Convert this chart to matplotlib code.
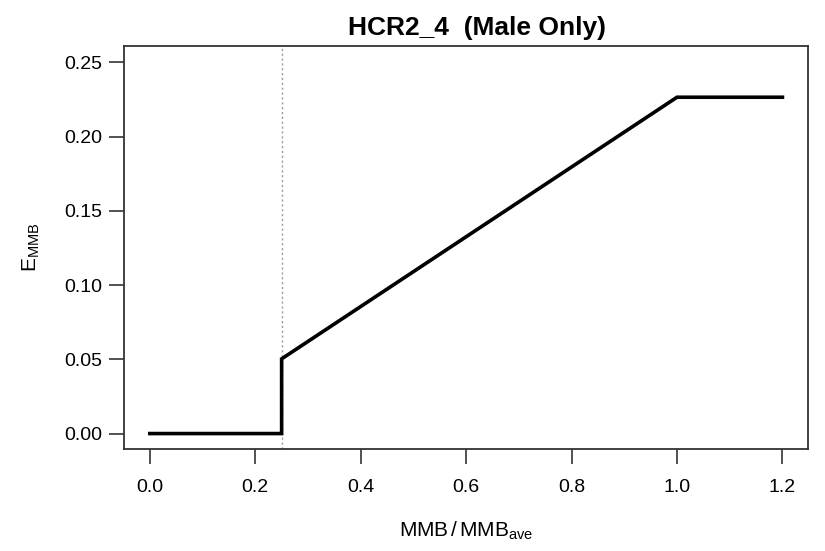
import matplotlib
matplotlib.use("Agg")
import matplotlib.pyplot as plt

plt.rcParams['font.family'] = ['Liberation Sans', 'DejaVu Sans']
plt.rcParams['mathtext.fontset'] = 'custom'
plt.rcParams['mathtext.rm'] = 'Liberation Sans'
plt.rcParams['mathtext.it'] = 'Liberation Sans'

# harvest control rule (MMB/MMB_ave vs exploitation rate)
mmb_ratio = [0.0, 0.25, 0.25, 1.0, 1.2]
e_mmb = [0.0, 0.0, 0.0503, 0.2265, 0.2265]
threshold = 0.25

x_ticks = [0.0, 0.2, 0.4, 0.6, 0.8, 1.0, 1.2]
y_ticks = [0.00, 0.05, 0.10, 0.15, 0.20, 0.25]

fig = plt.figure(figsize=(8.25, 5.51), dpi=100)
ax = fig.add_axes([124 / 825, 1 - 449 / 551, (808 - 124) / 825, (449 - 45.7) / 551])

ax.plot(mmb_ratio, e_mmb, color='black', lw=2.6, solid_joinstyle='miter')
ax.axvline(threshold, color='#999999', lw=1, ls=(0, (1.5, 2)), zorder=0)

ax.set_xlim(-0.049, 1.2485)
ax.set_ylim(-0.0104, 0.2612)
ax.set_xticks(x_ticks)
ax.set_xticklabels(['%.1f' % v for v in x_ticks])
ax.set_yticks(y_ticks)
ax.set_yticklabels(['%.2f' % v for v in y_ticks])
ax.tick_params(axis='both', labelsize=14, length=10.5, width=1.2, color='#333333')
ax.tick_params(axis='x', pad=11)
ax.tick_params(axis='y', pad=5)
for s in ax.spines.values():
    s.set_linewidth(1.3)
    s.set_color('#333333')

ax.set_title('HCR2_4  (Male Only)', fontsize=19, fontweight='bold', pad=8, x=0.516)
ax.set_xlabel(r'MMB$\,$/$\,$MMB$_{\mathrm{ave}}$', fontsize=15, labelpad=17)
ax.set_ylabel(r'E$_{\mathrm{MMB}}$', fontsize=15, labelpad=16)

fig.savefig('out.png', dpi=100)
